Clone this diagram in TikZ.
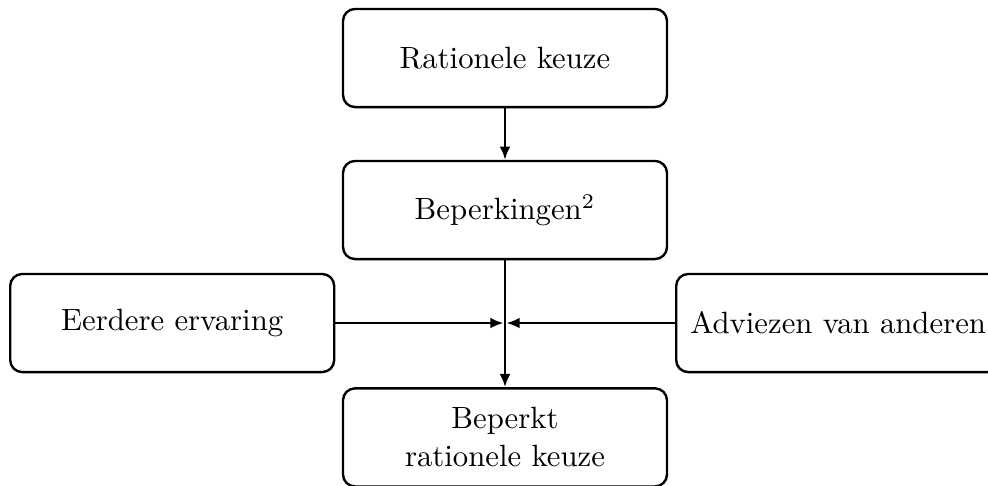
\documentclass[tikz,border=0pt]{standalone}
\usetikzlibrary{arrows.meta}
\begin{document}
\begin{tikzpicture}[
  box/.style={draw, thick, rounded corners=4pt, minimum width=108pt, minimum height=32.7pt, align=center, inner sep=2pt, font=\fontsize{10.25}{12.7}\selectfont},
  conn/.style={thick, -{Latex[length=4.4pt,width=3.6pt]}},
]
\useasboundingbox (0,0) rectangle (329.33pt,-161.67pt);
\node[box] (top) at (168.33pt,-19.33pt) {Rationele keuze};
\node[box] (bep) at (168.33pt,-70pt) {Beperkingen$^2$};
\node[box] (left) at (57.4pt,-107.67pt) {Eerdere ervaring};
\node[box] (right) at (279.4pt,-107.67pt) {Adviezen van anderen};
\node[box] (bot) at (168.33pt,-145.8pt) {Beperkt\\rationele keuze};
\coordinate (jl) at ([xshift=-0.5pt]bep.south |- left.east);
\coordinate (jr) at ([xshift=0.5pt]bep.south |- right.west);
\draw[conn] (top) -- (bep);
\draw[conn] (bep) -- (bot);
\draw[conn] (left) -- (jl);
\draw[conn] (right) -- (jr);
\end{tikzpicture}
\end{document}
